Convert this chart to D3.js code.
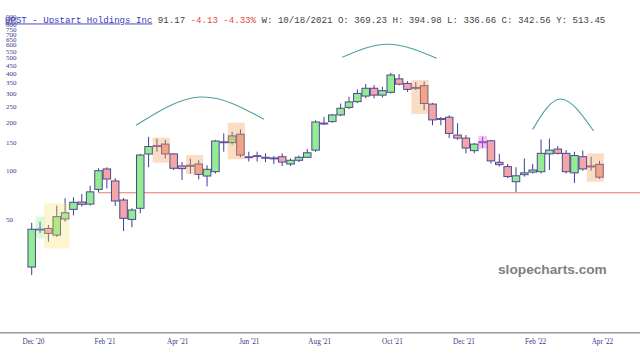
<!DOCTYPE html>
<html><head><meta charset="utf-8">
<script src="https://cdn.jsdelivr.net/npm/d3@7"></script>
<style>body{margin:0;background:#fff}svg{display:block}</style>
</head><body><svg id="c" width="640" height="357"></svg>
<script>
// ---- data ----
const startWeek = "2020-12-14";
const opens  = [25.4,43.4,44,40,50.3,57.7,64,62.2,76.7,102.5,86.4,65.9,50,58.6,126.8,142,146,127,107,107,110,92.7,98.6,149,149,168,122,123,121,120,122,110,116,121,134,197,201,221,246,267,289,323,293,305,369.23,346,327,335,258,210,214,166,159,133,150,153,112.6,106,85.5,94.5,98,98.6,127,136,128,97,122,106,109.5];
const highs  = [47.7,48.4,46.2,60.8,67.6,68.5,71.8,80.8,103.5,105,90,67.8,58.6,127,162,158,154.8,128,113,119,116,108,155,170,174,180,131,131,128,123,128,119,124,136,205,215,224,260,286,318,343,338,330,401.5,394.98,357,352,355,262,215,220,196,166,148,162,155,127,110,105,119,110,156,158,142,134,131,133,122,115];
const lows   = [22.7,41.2,36.4,39,48.4,53,60,61,73.5,77.8,60.5,42.4,44.7,54.5,105,131,119,101,87.6,96,88.5,80,96,131,145,121,114,114,113,110,107,107,113,120,130.5,191,198,217,240,262,280,280,283,300,336.66,307,315,237,191,191,159,155,128,128,138,111,106,90,74,92,96,96,101,126,96,84,100,100,89];
const closes = [43.5,43.6,41,52,55,63.8,62,74,100,88.8,65,50.8,57.2,125,141,143,127,103.5,103,108,95,102,152.5,151,164,125,121,124,120,119,113,116,121,129,200,196,221,243,266,300,323,293,312,390,342.56,318,325,260,206,208,170,159,138,146,151,115,109,92,93,97,101,128,134,128,98.6,124,102.5,107,91.17];

const yTicks = [50,100,150,200,250,300,350,400,450,500,550,600,650,700,750,800,850,900];
const xTickDates  = ["2020-12-15","2021-02-13","2021-04-15","2021-06-14","2021-08-12","2021-10-12","2021-12-11","2022-02-09","2022-04-06"];
const xTickLabels = ["Dec '20","Feb '21","Apr '21","Jun '21","Aug '21","Oct '21","Dec '21","Feb '22","Apr '22"];

// highlight boxes: first candle index, last candle index, top price, bottom price, kind
const boxFrom  = [1, 2, 15, 19, 24, 46, 54, 67];
const boxTo    = [1, 4, 16, 20, 25, 47, 54, 68];
const boxTop   = [52, 62.9, 160, 125, 198, 363, 164, 128];
const boxBot   = [38.2, 33.1, 112, 95.4, 117.6, 224, 137, 85.5];
const boxKind  = ["green","yellow","orange","orange","orange","orange","magenta","orange"];

// arcs: candle-index positions and prices (start, peak, end)
const arcIdx   = [[12.5, 20.2, 27.8], [37.2, 42.7, 48.5], [60, 63.4, 67.3]];
const arcPrice = [[191, 285, 208], [502, 604, 495], [180, 277, 176]];

const supportStartIdx = 8;
const supportPrice = 73.1;

const title = {name:"UPST - Upstart Holdings Inc", last:"91.17", chg:"-4.13", pct:"-4.33%",
  info:"W: 10/18/2021 O: 369.23 H: 394.98 L: 336.66 C: 342.56 Y: 513.45"};

// ---- build ----
const W = 640, H = 357;
const svg = d3.select("#c");
const parse = d3.utcParse("%Y-%m-%d");
const t0 = parse(startWeek);
const dates = opens.map((_, i) => d3.utcDay.offset(t0, 7 * i));
const candles = dates.map((d, i) => ({d, o: opens[i], h: highs[i], l: lows[i], c: closes[i]}));

const x = d3.scaleUtc().domain([dates[0], dates[dates.length - 1]]).range([31.7, 599.5]);
const y = d3.scaleLog().domain([10, 1000]).range([332.6, 8.8]);
const xi = i => x(d3.utcHour.offset(t0, Math.round(i * 7 * 24)));
const step = x(dates[1]) - x(dates[0]);

// support line
svg.append("line")
  .attr("x1", x(dates[supportStartIdx])).attr("x2", W)
  .attr("y1", y(supportPrice)).attr("y2", y(supportPrice))
  .attr("stroke", "#ee7474").attr("stroke-width", 1.2);

// arcs
const arcLine = d3.line().x(p => xi(p[0])).y(p => y(p[1])).curve(d3.curveNatural);
arcIdx.forEach((ix, k) => {
  svg.append("path").attr("d", arcLine(ix.map((v, j) => [v, arcPrice[k][j]])))
    .attr("fill", "none").attr("stroke", "#4f9e9e").attr("stroke-width", 1.1);
});

// candles
const g = svg.append("g");
g.selectAll("line.w").data(candles).join("line")
  .attr("x1", d => x(d.d)).attr("x2", d => x(d.d))
  .attr("y1", d => y(d.h)).attr("y2", d => y(d.l))
  .attr("stroke", "#3d3d9e").attr("stroke-width", 1);
const bw = step * 0.9;
g.selectAll("rect.b").data(candles).join("rect")
  .attr("x", d => x(d.d) - bw / 2).attr("width", bw)
  .attr("y", d => y(Math.max(d.o, d.c)))
  .attr("height", d => Math.max(1, y(Math.min(d.o, d.c)) - y(Math.max(d.o, d.c))))
  .attr("fill", d => d.c >= d.o ? "#93ec93" : "#f5a5a8")
  .attr("stroke", d => Math.abs(d.c - d.o) / d.o < 0.02 ? "#6a4fa0" : "#4a4a90").attr("stroke-width", 1);

// highlight boxes
const boxColor = {green:"rgb(130,235,130)", yellow:"rgb(250,222,100)", orange:"rgb(245,160,90)", magenta:"rgb(230,90,230)"};
const boxOpacity = {green:0.3, yellow:0.3, orange:0.36, magenta:0.36};
boxFrom.forEach((f, k) => {
  const x0 = x(dates[f]) - step / 2 - 0.2, x1 = x(dates[boxTo[k]]) + step / 2 + 0.2;
  svg.append("rect").attr("x", x0).attr("width", x1 - x0)
    .attr("y", y(boxTop[k])).attr("height", y(boxBot[k]) - y(boxTop[k]))
    .attr("fill", boxColor[boxKind[k]]).attr("opacity", boxOpacity[boxKind[k]]);
});

// bottom axis
svg.append("line").attr("x1", 0).attr("x2", W).attr("y1", 332.7).attr("y2", 332.7)
  .attr("stroke", "#9a9a9a").attr("stroke-width", 1.5);
const xAxis = d3.axisBottom(x).tickValues(xTickDates.map(parse))
  .tickFormat((d, i) => xTickLabels[i]).tickSize(0).tickPadding(0);
const ga = svg.append("g").attr("transform", "translate(0,340)").call(xAxis);
ga.select(".domain").remove();
ga.selectAll("text").attr("font-family", "'Liberation Serif', 'DejaVu Serif', serif")
  .attr("font-size", 7.2).attr("fill", "#3a3a8a").attr("dy", "0.55em");

// y axis labels
const yAxis = d3.axisRight(y).tickValues(yTicks).tickFormat(d3.format("d")).tickSize(0).tickPadding(0);
const gy = svg.append("g").attr("transform", "translate(6,0)").call(yAxis);
gy.select(".domain").remove();
gy.selectAll("text").attr("font-family", "'Liberation Serif', 'DejaVu Serif', serif")
  .attr("font-size", 7).attr("fill", "#3a3a8a");

// title
const tt = svg.append("text").attr("x", 5).attr("y", 22.5)
  .attr("font-family", "'Liberation Mono', 'DejaVu Sans Mono', monospace").attr("font-size", 9.1);
tt.append("tspan").text(title.name).attr("fill", "#3b3bbb").attr("text-decoration", "underline");
tt.append("tspan").text(" " + title.last).attr("fill", "#444");
tt.append("tspan").text(" " + title.chg + " " + title.pct).attr("fill", "#e04a4a");
tt.append("tspan").text(" " + title.info).attr("fill", "#444");

// watermark
svg.append("text").attr("x", 498).attr("y", 274).text("slopecharts.com")
  .attr("font-family", "'Liberation Sans', Arial, sans-serif").attr("font-weight", "bold")
  .attr("font-size", 13.7).attr("fill", "#808080");
</script></body></html>
